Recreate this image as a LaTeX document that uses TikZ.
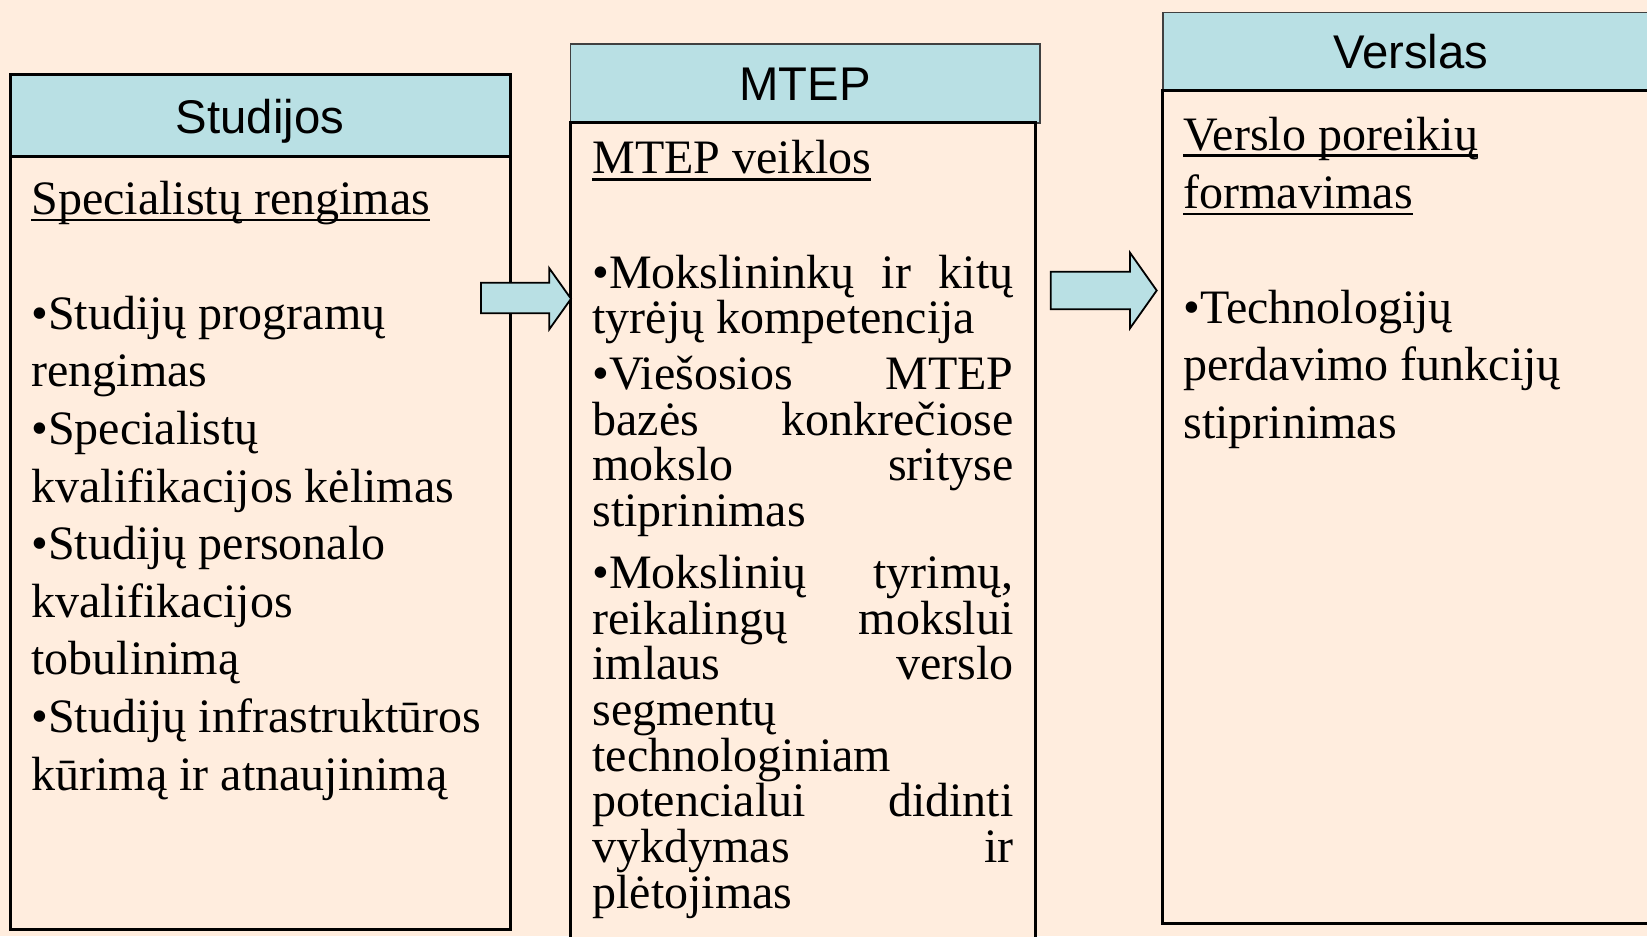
\documentclass[tikz,border=0pt]{standalone}
\usepackage{fontspec}
\setmainfont{Liberation Serif}
\newfontfamily\hdrfont{Liberation Sans}
\definecolor{bgpeach}{RGB}{255,237,222}
\definecolor{hdrblue}{RGB}{185,224,228}
\tikzset{
  hdrtext/.style={font=\hdrfont\fontsize{23.65pt}{28pt}\selectfont, inner sep=0pt, anchor=base},
  bodytext/.style={font=\fontsize{24pt}{28.8pt}\selectfont, inner sep=0pt, anchor=base west},
  thickbox/.style={draw=black, line width=1.5pt},
  thinbox/.style={draw=black!75, line width=0.75pt},
  hdrfill/.style={fill=hdrblue},
  bodyfill/.style={fill=bgpeach},
  ulline/.style={line width=1.3pt},
  blockarrow/.style={fill=hdrblue, draw=black, line width=0.9pt, line join=miter},
}
\newcommand{\jline}[1]{\makebox[210.5pt][s]{#1}}
\begin{document}
\begin{tikzpicture}[x=0.5pt,y=-0.5pt]
\useasboundingbox (0,0) rectangle (1647,936);
\clip (0,0) rectangle (1647,936);
\fill[bgpeach] (0,0) rectangle (1647,936);

% ---------- Studijos ----------
\draw[thickbox, hdrfill] (10,75) rectangle (510,157);
\draw[thickbox, bodyfill] (10,157) rectangle (510,929);
\node[hdrtext] (studh) at (260,134) {Studijos};
\node[bodytext] (s0) at (31,214) {Specialistų rengimas};
\draw[ulline] ([yshift=-3pt]s0.base west) -- ([yshift=-3pt]s0.base east);
\node[bodytext] (s1) at (31,329.3) {•Studijų programų};
\node[bodytext] (s2) at (31,386.9) {rengimas};
\node[bodytext] (s3) at (31,444.5) {•Specialistų};
\node[bodytext] (s4) at (31,502.1) {kvalifikacijos kėlimas};
\node[bodytext] (s5) at (31,559.7) {•Studijų personalo};
\node[bodytext] (s6) at (31,617.3) {kvalifikacijos};
\node[bodytext] (s7) at (31,674.9) {tobulinimą};
\node[bodytext] (s8) at (31,732.5) {•Studijų infrastruktūros};
\node[bodytext] (s9) at (31,790.1) {kūrimą ir atnaujinimą};

% ---------- MTEP ----------
\draw[thinbox, hdrfill] (570.7,44) rectangle (1040,123);
\draw[thickbox, bodyfill] (570,123) rectangle (1035,960);
\node[hdrtext] (mteph) at (805,101) {MTEP};
\node[bodytext] (m0) at (592,173.3) {MTEP veiklos};
\draw[ulline] ([yshift=-3pt]m0.base west) -- ([yshift=-3pt]m0.base east);
\node[bodytext] (m1) at (592,288) {\jline{•Mokslininkų ir kitų}};
\node[bodytext] (m2) at (592,333.7) {tyrėjų kompetencija};
\node[bodytext] (m3) at (592,389.3) {\jline{•Viešosios MTEP}};
\node[bodytext] (m4) at (592,435) {\jline{bazės konkrečiose}};
\node[bodytext] (m5) at (592,480.7) {\jline{mokslo srityse}};
\node[bodytext] (m6) at (592,526.4) {stiprinimas};
\node[bodytext] (m7) at (592,588.3) {\jline{•Mokslinių tyrimų,}};
\node[bodytext] (m8) at (592,634) {\jline{reikalingų mokslui}};
\node[bodytext] (m9) at (592,679.7) {\jline{imlaus verslo}};
\node[bodytext] (m10) at (592,725.4) {segmentų};
\node[bodytext] (m11) at (592,771.1) {technologiniam};
\node[bodytext] (m12) at (592,816.8) {\jline{potencialui didinti}};
\node[bodytext] (m13) at (592,862.5) {\jline{vykdymas ir}};
\node[bodytext] (m14) at (592,908.2) {plėtojimas};

% ---------- Verslas ----------
\draw[thinbox, hdrfill] (1163,12.7) rectangle (1680,91);
\draw[thickbox, bodyfill] (1162,91) rectangle (1680,923);
\node[hdrtext] (versh) at (1410.7,69) {Verslas};
\node[bodytext] (v0) at (1183,150.7) {Verslo poreikių};
\draw[ulline] ([yshift=-2.5pt]v0.base west) -- ([yshift=-2.5pt]v0.base east);
\node[bodytext] (v1) at (1183,208.2) {formavimas};
\draw[ulline] ([yshift=-3pt]v1.base west) -- ([yshift=-3pt]v1.base east);
\node[bodytext] (v2) at (1183,323.2) {•Technologijų};
\node[bodytext] (v3) at (1183,380.7) {perdavimo funkcijų};
\node[bodytext] (v4) at (1183,438.2) {stiprinimas};

% ---------- block arrows ----------
\draw[blockarrow] (481,282.7) -- (549.3,282.7) -- (549.3,268.3) -- (571,298.8)
  -- (549.3,329.3) -- (549.3,313.3) -- (481,313.3) -- cycle;
\draw[blockarrow] (1050.7,271.7) -- (1130,271.7) -- (1130,252.7) -- (1156.7,290.5)
  -- (1130,328.3) -- (1130,309.3) -- (1050.7,309.3) -- cycle;
\end{tikzpicture}
\end{document}
